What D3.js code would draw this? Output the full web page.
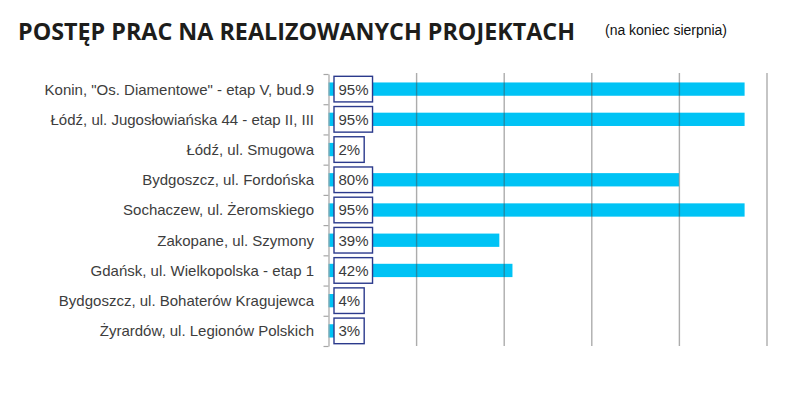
<!DOCTYPE html>
<html>
<head>
<meta charset="utf-8">
<script src="https://cdn.jsdelivr.net/npm/d3@7"></script>
<style>
  html, body { margin: 0; padding: 0; background: #fff; }
  svg { display: block; }
</style>
</head>
<body>
<svg id="chart" width="792" height="394"></svg>
<script>
const titleText = "POSTĘP PRAC NA REALIZOWANYCH PROJEKTACH";
const subtitleText = "(na koniec sierpnia)";
const categories = [
  "Konin, \"Os. Diamentowe\" - etap V, bud.9",
  "Łódź, ul. Jugosłowiańska 44 - etap II, III",
  "Łódź, ul. Smugowa",
  "Bydgoszcz, ul. Fordońska",
  "Sochaczew, ul. Żeromskiego",
  "Zakopane, ul. Szymony",
  "Gdańsk, ul. Wielkopolska - etap 1",
  "Bydgoszcz, ul. Bohaterów Kragujewca",
  "Żyrardów, ul. Legionów Polskich"
];
const values = [95, 95, 2, 80, 95, 39, 42, 4, 3];
const gridTicks = [20, 40, 60, 80, 100];

(function () {
const svg = d3.select("#chart");
const pLeft = 328.5, pRight = 766.5, pTop = 74, pBottom = 346;

const x = d3.scaleLinear().domain([0, 100]).range([pLeft, pRight]);
const y = d3.scaleBand().domain(categories).range([pTop, pBottom]).padding(0);
const yIdx = d3.scaleLinear().domain([0, categories.length]).range([pTop, pBottom]);
const bw = y.bandwidth();
const barH = bw * 0.44;

// title
svg.append("text")
  .attr("x", 18).attr("y", 39.5)
  .attr("font-family", "Open Sans, sans-serif")
  .attr("font-weight", 700)
  .attr("font-size", 23)
  .attr("fill", "#1d1d1b")
  .attr("textLength", 557)
  .attr("lengthAdjust", "spacingAndGlyphs")
  .text(titleText);

svg.append("text")
  .attr("x", 605).attr("y", 35)
  .attr("font-family", "Liberation Sans, Arial, sans-serif")
  .attr("font-size", 14)
  .attr("fill", "#111")
  .attr("textLength", 122)
  .attr("lengthAdjust", "spacingAndGlyphs")
  .text(subtitleText);

// bars
svg.append("g").selectAll("rect")
  .data(values)
  .join("rect")
  .attr("x", x(0))
  .attr("y", (d, i) => y(categories[i]) + (bw - barH) / 2)
  .attr("width", d => x(d) - x(0))
  .attr("height", barH)
  .attr("fill", "#00c3f5");

// gridlines (drawn over bars, semi-transparent)
svg.append("g")
  .attr("transform", `translate(0,${pBottom})`)
  .call(d3.axisBottom(x).tickValues(gridTicks).tickSize(-(pBottom - pTop) - 1).tickFormat(""))
  .call(g => g.select(".domain").remove())
  .call(g => g.selectAll(".tick line").attr("stroke", "rgba(70,70,70,0.45)").attr("stroke-width", 1.4));

// left axis with ticks at band boundaries
svg.append("g")
  .attr("transform", `translate(${pLeft},0)`)
  .call(d3.axisLeft(yIdx).tickValues(d3.range(categories.length + 1)).tickSize(5).tickSizeOuter(0).tickFormat(""))
  .call(g => g.select(".domain").attr("stroke", "#a6a6a6").attr("stroke-width", 1.2))
  .call(g => g.selectAll(".tick line").attr("stroke", "#a6a6a6").attr("stroke-width", 1.2));

// category labels
svg.append("g").selectAll("text")
  .data(categories)
  .join("text")
  .attr("x", 314)
  .attr("y", d => y(d) + bw / 2)
  .attr("dy", "0.36em")
  .attr("text-anchor", "end")
  .attr("font-family", "Liberation Sans, Arial, sans-serif")
  .attr("font-size", 15)
  .attr("fill", "#3d3d3d")
  .text(d => d);

// value label boxes
const lab = svg.append("g").selectAll("g")
  .data(values)
  .join("g")
  .attr("transform", (d, i) => `translate(334,${y(categories[i]) + bw / 2})`);

lab.append("rect")
  .attr("fill", "#fff")
  .attr("stroke", "#2b3a8c")
  .attr("stroke-width", 1.4);

const boxTexts = lab.append("text")
  .attr("x", 4.5)
  .attr("dy", "0.36em")
  .attr("font-family", "Liberation Sans, Arial, sans-serif")
  .attr("font-size", 15)
  .attr("fill", "#3a3a3a")
  .text(d => d + "%");

boxTexts.each(function () {
  const w = this.getComputedTextLength();
  d3.select(this.previousSibling)
    .attr("x", 0).attr("y", -12.8)
    .attr("width", w + 8.5).attr("height", 25.6);
});
})();
</script>
</body>
</html>
